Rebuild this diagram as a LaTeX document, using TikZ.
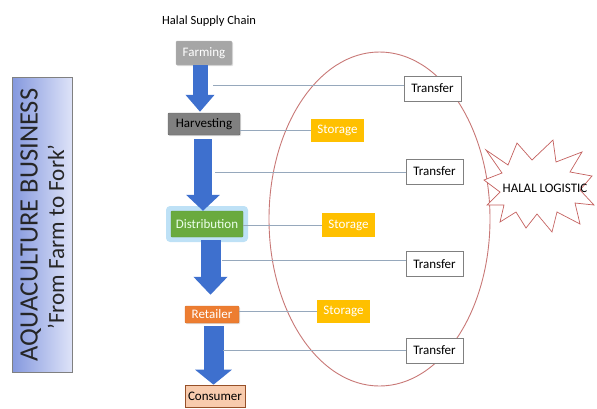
\documentclass[tikz,border=0pt]{standalone}
\usepackage{fontspec}
\setmainfont{Carlito}
\usetikzlibrary{arrows.meta,calc,shadows}
\definecolor{arrowblue}{RGB}{62,112,206}
\definecolor{linkgray}{RGB}{150,168,188}
\definecolor{ellred}{RGB}{200,120,118}
\definecolor{starred}{RGB}{196,96,94}
\definecolor{farmgray}{RGB}{166,166,166}
\definecolor{harvgray}{RGB}{128,128,128}
\definecolor{distgreen}{RGB}{106,170,62}
\definecolor{glowblue}{RGB}{190,225,246}
\definecolor{retorange}{RGB}{237,125,49}
\definecolor{conspeach}{RGB}{248,203,173}
\definecolor{consborder}{RGB}{150,80,40}
\definecolor{storeamber}{RGB}{255,192,0}
\definecolor{leftdark}{RGB}{132,152,222}
\definecolor{leftlight}{RGB}{222,227,248}
\tikzset{
  x=1pt, y=-1pt,
  every node/.style={font=\fontsize{13}{15}\selectfont, inner sep=0pt},
  stagebox/.style={draw, rounded corners=1pt, drop shadow={shadow xshift=1pt, shadow yshift=-1.2pt, opacity=0.25}},
  transferbox/.style={draw=harvgray, fill=white, minimum width=57pt, minimum height=25pt, line width=0.7pt},
  storebox/.style={fill=storeamber, text=white, minimum width=53pt, minimum height=23pt},
  bigarrow/.style={draw=arrowblue, line cap=butt},
  linkline/.style={draw=linkgray, line width=0.8pt},
}
\begin{document}
\begin{tikzpicture}
\useasboundingbox (0,0) rectangle (597,408);
% left box
\shade[left color=leftdark, right color=leftlight, draw=gray, line width=0.6pt] (12,77) rectangle (72,372);
\node[rotate=90, anchor=base, font=\fontsize{26.5}{28}\selectfont, text=black!85] (biz) at (37.5,225) {AQUACULTURE BUSINESS};
\node[rotate=90, anchor=base, font=\fontsize{23.2}{25}\selectfont, text=black!85] (fork) at (64,237) {’From Farm to Fork’};
% title
\node[anchor=base west, font=\fontsize{12.5}{14}\selectfont] (title) at (162,24) {Halal Supply Chain};
% ellipse
\draw[ellred, line width=0.9pt] (379.5,219) ellipse [x radius=110.5, y radius=167];
% stages
\node[stagebox, draw=farmgray!80, fill=farmgray, text=white, minimum width=56pt, minimum height=24pt] (farming) at (204,53) {Farming};
\node[stagebox, draw=black!60, fill=harvgray, text=black, minimum width=72pt, minimum height=22pt] (harv) at (204,124) {Harvesting};
\fill[glowblue, rounded corners=4pt] (166,206) rectangle (248,242);
\node[draw=distgreen!90!black, fill=distgreen, text=green!8, minimum width=72pt, minimum height=26pt, rounded corners=1pt] (dist) at (207,224) {Distribution};
\node[stagebox, draw=retorange!90!black, fill=retorange, text=white, minimum width=54pt, minimum height=17pt] (ret) at (212,314.5) {Retailer};
\node[draw=consborder, fill=conspeach, text=black, minimum width=60pt, minimum height=22pt, line width=0.6pt] (cons) at (215,396) {Consumer};
% block arrows
\draw[bigarrow, line width=15pt, -{Triangle[width=28pt, length=17pt]}] ([xshift=-4]farming.south) -- ([xshift=-4, yshift=1]harv.north);
\draw[bigarrow, line width=18pt, -{Triangle[width=33pt, length=16pt]}] ([shift={(-1,4)}]harv.south) -- ([xshift=-4]dist.north);
\draw[bigarrow, line width=20pt, -{Triangle[width=33pt, length=18pt]}] ([shift={(3.5,3)}]dist.south) -- ([shift={(-1.5,-11)}]ret.north);
\draw[bigarrow, line width=20pt, -{Triangle[width=36pt, length=15pt]}] ([shift={(1.5,3)}]ret.south) -- ([xshift=-1.5]cons.north);
% transfer boxes
\node[transferbox] (t1) at (432.5,88.5) {Transfer};
\node[transferbox] (t2) at (434.5,171.5) {Transfer};
\node[transferbox] (t3) at (434.5,264) {Transfer};
\node[transferbox] (t4) at (434.5,350.5) {Transfer};
% storage boxes
\node[storebox] (s1) at (337.5,130) {Storage};
\node[storebox, minimum height=24pt] (s2) at (348.5,225) {Storage};
\node[storebox] (s3) at (343.5,311.5) {Storage};
% link lines
\coordinate (c1) at (213,85);
\coordinate (c2) at (215,172);
\coordinate (c3) at (222,260);
\coordinate (c4) at (223,350);
\draw[linkline] (c1) -- (c1 -| t1.west);
\draw[linkline] (c2) -- (c2 -| t2.west);
\draw[linkline] (c3) -- (c3 -| t3.west);
\draw[linkline] (c4) -- (c4 -| t4.west);
\draw[linkline] (harv.east |- s1.west) -- (s1.west);
\draw[linkline] (dist.east |- s2.west) -- (s2.west);
\draw[linkline] (ret.east |- s3.west) -- (s3.west);
% starburst
\draw[starred, line width=0.7pt, fill=white] (486,150) -- (508,165) -- (517,143) -- (532,160) -- (553,140) -- (556,162) -- (582,152) -- (570,172) -- (592,176) -- (580,190) -- (594,205) -- (575,203) -- (580,224) -- (557,212) -- (552,232) -- (537,214) -- (526,228) -- (516,212) -- (500,222) -- (504,205) -- (487,205) -- (500,192) -- (484,180) -- (502,173) -- cycle;
\node (halal) at (545,188) {HALAL LOGISTIC};
\end{tikzpicture}
\end{document}
